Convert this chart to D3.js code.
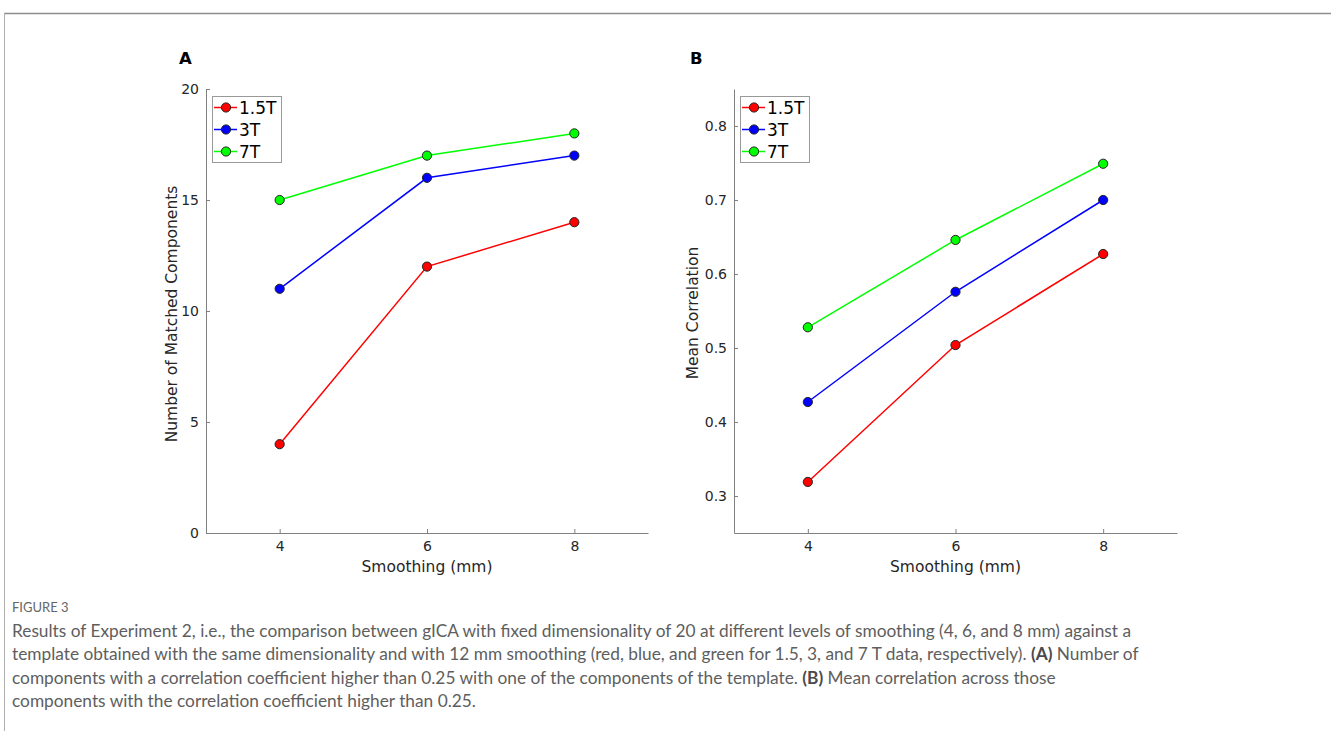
<!DOCTYPE html>
<html>
<head>
<meta charset="utf-8">
<script src="https://cdn.jsdelivr.net/npm/d3@7"></script>
<style>
  html, body { margin: 0; padding: 0; background: #fff; }
  svg { display: block; }
  .ax text { font-family: "DejaVu Sans", sans-serif; font-size: 14px; fill: #262626; }
</style>
</head>
<body>
<svg id="chart" width="1331" height="731"></svg>
<script>
// ---- data ----
const smoothing = [4, 6, 8];
const seriesNames = ["1.5T", "3T", "7T"];
const seriesColors = ["#ff0000", "#0000ff", "#00ff00"];
const matched_15T = [4, 12, 14];
const matched_3T = [11, 16, 17];
const matched_7T = [15, 17, 18];
const corr_15T = [0.319, 0.504, 0.627];
const corr_3T = [0.427, 0.576, 0.700];
const corr_7T = [0.528, 0.646, 0.749];
const xTicks = [4, 6, 8];
const yTicksA = [0, 5, 10, 15, 20];
const yTicksB = [0.3, 0.4, 0.5, 0.6, 0.7, 0.8];

const svg = d3.select("#chart");
const FONT = "DejaVu Sans, sans-serif";
const AXIS_COLOR = "#808080";
const TEXT_COLOR = "#262626";

// page frame
svg.append("line").attr("x1", 4).attr("x2", 1331).attr("y1", 13.5).attr("y2", 13.5)
  .attr("stroke", "#8c8c8c").attr("stroke-width", 1.5);
svg.append("line").attr("x1", 4.5).attr("x2", 4.5).attr("y1", 13).attr("y2", 731)
  .attr("stroke", "#b0b0b0").attr("stroke-width", 1);

function panel(cfg) {
  const g = svg.append("g");
  const x = d3.scaleLinear().domain([3, 9]).range([cfg.x0, cfg.x1]);
  const y = d3.scaleLinear().domain(cfg.yDomain).range([533, 89]);

  // x axis (ticks inward)
  const xa = g.append("g").attr("class", "ax").attr("transform", `translate(0,533)`)
    .call(d3.axisBottom(x).tickValues(xTicks).tickSizeInner(-4).tickSizeOuter(0).tickPadding(10)
      .tickFormat(d3.format("d")));
  // y axis
  const ya = g.append("g").attr("class", "ax").attr("transform", `translate(${cfg.x0},0)`)
    .call(d3.axisLeft(y).tickValues(cfg.yTicks).tickSizeInner(-4).tickSizeOuter(0).tickPadding(7)
      .tickFormat(cfg.fmt));
  [xa, ya].forEach(a => {
    a.attr("font-size", 14).attr("font-family", FONT);
    a.select(".domain").attr("stroke", AXIS_COLOR).attr("stroke-width", 1);
    a.selectAll(".tick line").attr("stroke", AXIS_COLOR);
    a.selectAll(".tick text").attr("fill", TEXT_COLOR);
  });
  xa.selectAll(".tick text").attr("dy", "0.71em").attr("y", 8);

  // labels
  g.append("text").attr("x", (cfg.x0 + cfg.x1) / 2).attr("y", 572)
    .attr("text-anchor", "middle").attr("fill", TEXT_COLOR)
    .attr("font-family", FONT).attr("font-size", 15.5).text("Smoothing (mm)");
  g.append("text").attr("transform", `translate(${cfg.ylabX},${cfg.ylabY}) rotate(-90)`)
    .attr("text-anchor", "middle").attr("fill", TEXT_COLOR)
    .attr("font-family", FONT).attr("font-size", 15.5).text(cfg.ylabel);
  g.append("text").attr("x", cfg.letterX).attr("y", 64)
    .attr("fill", "#000").attr("font-family", FONT).attr("font-weight", "bold")
    .attr("font-size", 16.5).text(cfg.letter);

  // lines & markers
  const line = d3.line().x((d, i) => x(smoothing[i])).y(d => y(d));
  cfg.series.forEach((vals, si) => {
    g.append("path").datum(vals).attr("d", line).attr("fill", "none")
      .attr("stroke", seriesColors[si]).attr("stroke-width", 1.5);
  });
  cfg.series.forEach((vals, si) => {
    g.selectAll(null).data(vals).enter().append("circle")
      .attr("cx", (d, i) => x(smoothing[i])).attr("cy", d => y(d)).attr("r", 4.6)
      .attr("fill", seriesColors[si]).attr("stroke", "#222").attr("stroke-width", 1);
  });

  // legend
  const lg = g.append("g");
  lg.append("rect").attr("x", cfg.legX + 0.5).attr("y", 96.5).attr("width", 69).attr("height", 66)
    .attr("fill", "#fff").attr("stroke", "#999").attr("stroke-width", 1);
  seriesNames.forEach((name, i) => {
    const cy = 107.5 + i * 22;
    lg.append("line").attr("x1", cfg.legX + 2).attr("x2", cfg.legX + 25).attr("y1", cy).attr("y2", cy)
      .attr("stroke", seriesColors[i]).attr("stroke-width", 1.5);
    lg.append("circle").attr("cx", cfg.legX + 14).attr("cy", cy).attr("r", 4.6)
      .attr("fill", seriesColors[i]).attr("stroke", "#222").attr("stroke-width", 1);
    lg.append("text").attr("x", cfg.legX + 27).attr("y", cy + 6.2)
      .attr("fill", "#000").attr("font-family", FONT).attr("font-size", 17).text(name);
  });
}

panel({
  x0: 206, x1: 648, yDomain: [0, 20], yTicks: yTicksA, fmt: d3.format("d"),
  series: [matched_15T, matched_3T, matched_7T],
  ylabel: "Number of Matched Components", ylabX: 177, ylabY: 314,
  letter: "A", letterX: 179, legX: 212
});
panel({
  x0: 734, x1: 1177, yDomain: [0.25, 0.85], yTicks: yTicksB, fmt: d3.format(".1f"),
  series: [corr_15T, corr_3T, corr_7T],
  ylabel: "Mean Correlation", ylabX: 698, ylabY: 313,
  letter: "B", letterX: 690, legX: 740
});

// caption
const CAP_FONT = "Lato, 'Open Sans', sans-serif";
svg.append("text").attr("x", 12).attr("y", 612).attr("fill", "#666")
  .attr("font-family", CAP_FONT).attr("font-size", 13).text("FIGURE 3");

const capLines = [
  [["Results of Experiment 2, i.e., the comparison between gICA with fixed dimensionality of 20 at different levels of smoothing (4, 6, and 8 mm) against a", false]],
  [["template obtained with the same dimensionality and with 12 mm smoothing (red, blue, and green for 1.5, 3, and 7 T data, respectively). ", false], ["(A)", true], [" Number of", false]],
  [["components with a correlation coefficient higher than 0.25 with one of the components of the template. ", false], ["(B)", true], [" Mean correlation across those", false]],
  [["components with the correlation coefficient higher than 0.25.", false]]
];
const capTexts = capLines.map((parts, li) => {
  const t = svg.append("text").attr("x", 12).attr("y", 637 + li * 23.4).attr("fill", "#5e5e5e")
    .attr("font-family", CAP_FONT).attr("font-size", 16);
  parts.forEach(([s, b]) => {
    t.append("tspan").text(s).attr("font-weight", b ? "bold" : "normal").attr("fill", b ? "#4a4a4a" : "#5e5e5e");
  });
  return t;
});
// scale caption font so first line spans like the original
const w0 = capTexts[0].node().getComputedTextLength();
const fs = 16 * 1120 / w0;
capTexts.forEach(t => t.attr("font-size", fs));
</script>
</body>
</html>
